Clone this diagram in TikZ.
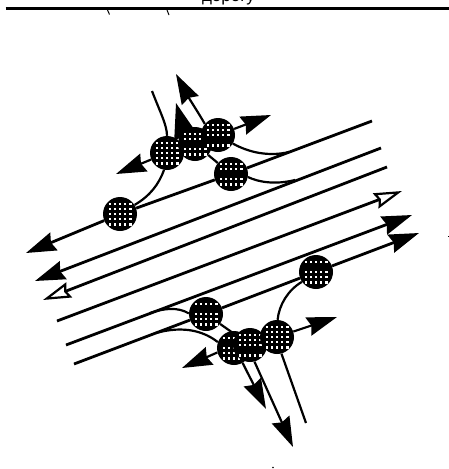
\documentclass[tikz,border=0pt]{standalone}
\usepackage{fontspec}
\setmainfont{Liberation Sans}
\usetikzlibrary{arrows.meta,backgrounds,calc}
\tikzset{
  x=1pt,y=-1pt,
  holes/.style={path picture={
    \foreach \i in {-3,...,3}{\foreach \j in {-3,...,3}{
      \pgfmathparse{(\i*\i+\j*\j<=8 && \j!=#1)?1:0}
      \ifnum\pgfmathresult=1
        \fill[white] ($(path picture bounding box.center)+(\i*5.2-1.1,\j*5.2-1.1)$) rectangle ++(2.2,2.2);
      \fi
    }}
  }},
  junction/.style={circle,fill=black,inner sep=0pt,minimum size=34pt,holes=#1},
  junction/.default=9,
  road/.style={line width=2.8pt,black},
  lane/.style={line width=2.2pt,black},
  solidhead/.style={-{Stealth[length=30pt,width=19pt,inset=3pt]}},
  bighead/.style={-{Stealth[length=36pt,width=24pt,inset=3pt]}},
  openhead/.style={-{Stealth[length=28pt,width=16pt,inset=3pt,fill=white,line width=2.2pt]}},
}
\begin{document}
\begin{tikzpicture}
\useasboundingbox (0,0) rectangle (449,469);
\clip (0,0) rectangle (449,469);
% junctions
\node[junction] (c1) at (120,214) {};
\node[junction] (c2) at (167,153) {};
\node[junction=0] (c3) at (195,144) {};
\node[junction=1] (c4) at (218,135) {};
\node[junction=0] (c5) at (231,174) {};
\node[junction=-1] (c10) at (316,272) {};
\node[junction=-1] (c6) at (206,314) {};
\node[junction=-1] (c7) at (234,348) {};
\node[junction=1] (c8) at (250,345) {};
\node[junction] (c9) at (277,337) {};
% free ends
\coordinate (a1) at (26,253);
\coordinate (b1) at (372,121);
\coordinate (a2) at (35,281);
\coordinate (b2) at (381,148);
\coordinate (a3) at (43,300);
\coordinate (b3) at (387,167);
\coordinate (a4) at (57,321);
\coordinate (b4) at (402,191);
\coordinate (a5) at (66,345);
\coordinate (b5) at (412,215);
\coordinate (a6) at (74,364);
\coordinate (b6) at (419,233);
\coordinate (n2) at (152,91);
\coordinate (t2) at (116,174);
\coordinate (t3) at (176,103);
\coordinate (t4up) at (176,74);
\coordinate (t4r) at (271,115);
\coordinate (m4) at (289,152);
\coordinate (m5) at (295,180);
\coordinate (m6) at (150,313);
\coordinate (m7) at (156,333);
\coordinate (t9) at (337,317);
\coordinate (n9) at (306,423);
\coordinate (t8) at (293,447);
\coordinate (t7) at (266,409);
\coordinate (t7l) at (182,368);
\begin{scope}[on background layer]
  % caption rule and cut-off caption
  \node[anchor=base,font=\fontsize{17}{17}\selectfont,inner sep=0pt] (cap) at (228.5,1) {дорогу};
  \draw[line width=2.8pt] (5.5,8.5) -- (449,8.5);
  \draw[line width=1pt] (107.5,10) -- (109.5,14.5);
  \draw[line width=1pt] (167,10) -- (169,15);
  \fill (273,467.5) circle (0.8);
  \fill (447.5,236) rectangle (449,236.8);
  % through roads
  \draw[road,solidhead] (c1) -- (a1);
  \draw[road] (c1) -- (c5);
  \draw[road] (c5) -- (b1);
  \draw[road,solidhead] (b2) -- (a2);
  \draw[road,openhead] (b3) -- (a3);
  \draw[road,openhead] (a4) -- (b4);
  \draw[road,solidhead] (a5) -- (b5);
  \draw[road] (a6) -- (c6);
  \draw[road] (c6) -- (c10);
  \draw[road,solidhead] (c10) -- (b6);
  % upper connections
  \draw[lane] (c1.32) .. controls (150,196) and (159,184) .. (c2.-100);
  \draw[lane] (n2) .. controls (160,112) and (167,125) .. (c2.90);
  \draw[lane,solidhead] (c2) -- (t2);
  \draw[lane,bighead] (c3.130) -- (t3);
  \draw[lane,solidhead] (c4.140) .. controls (198,112) and (190,100) .. (t4up);
  \draw[lane,solidhead] (c4) -- (t4r);
  \draw[lane] (c4.-30) .. controls (248,152) and (268,157) .. (m4);
  \draw[lane] (c5.-10) .. controls (258,182) and (275,185) .. (m5);
  \draw[lane] (c3) -- (c5);
  % lower connections
  \draw[lane] (c6.178) .. controls (178,307) and (165,308) .. (m6);
  \draw[lane] (c7.160) .. controls (205,332) and (185,325) .. (m7);
  \draw[lane] (c6) -- (c8);
  \draw[lane] (c10.-145) .. controls (288,290) and (279,305) .. (c9.88);
  \draw[lane,solidhead] (c9) -- (t9);
  \draw[lane] (c9.-75) -- (n9);
  \draw[lane,solidhead] (c8.-75) -- (t8);
  \draw[lane,solidhead] (c7.-60) -- (t7);
  \draw[lane,solidhead] (c7.-165) -- (t7l);
\end{scope}
\end{tikzpicture}
\end{document}
